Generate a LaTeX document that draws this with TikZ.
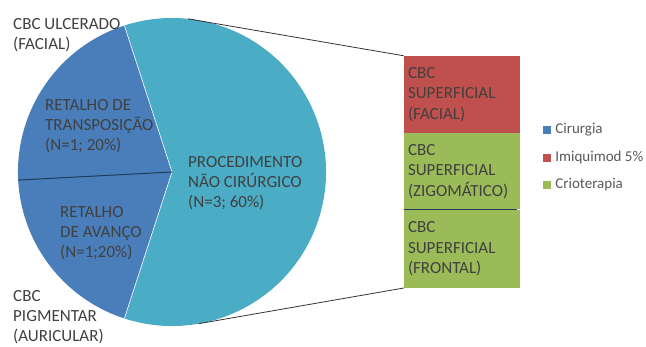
\documentclass[tikz,border=0pt]{standalone}
\usepackage{fontspec}
\setmainfont{Carlito}
\usetikzlibrary{positioning}

\definecolor{aqua}{HTML}{4BACC6}
\definecolor{cblue}{HTML}{4A7EBB}
\definecolor{cred}{HTML}{C0504D}
\definecolor{cgreen}{HTML}{9BBB59}
\definecolor{navy}{HTML}{1F3A5A}
\definecolor{txt}{HTML}{404040}

\begin{document}
\begin{tikzpicture}[
  x=1pt, y=1pt,
  every node/.style={align=left, text=txt},
  lbl/.style={anchor=west, inner sep=0pt, font=\fontsize{17}{20}\selectfont},
  bar/.style={minimum width=116pt, text width=108pt, inner xsep=4pt, inner ysep=0pt, font=\fontsize{17}{20.5}\selectfont},
  legbox/.style={minimum size=8pt, inner sep=0pt},
  legtext/.style={font=\fontsize{15}{18}\selectfont, text=black!65, inner sep=0pt},
  link/.style={draw=black!80, line width=0.8pt},
]

\useasboundingbox (0,0) rectangle (646,346);
\coordinate (c) at (172,174);

% pie
\fill[aqua] (c) -- ++(-108:154) arc[start angle=-108, end angle=108, radius=154] -- cycle;
\fill[cblue] (c) -- ++(108:154) arc[start angle=108, end angle=252, radius=154] -- cycle;
\draw[white, line width=0.6pt] (c) ++(108:154) -- (c) -- ++(-108:154);
\draw[navy, line width=1pt] (c) -- ++(183:154);
\path (c) ++(84:154) coordinate (ptop);
\path (c) ++(-80:154) coordinate (pbot);

\node[lbl] (ulcer) at (13,311) {CBC ULCERADO\\(FACIAL)};
\node[lbl] (transp) at (45,220) {RETALHO DE\\TRANSPOSIÇÃO\\(N=1; 20\%)};
\node[lbl] (avanco) at (60,113) {RETALHO\\DE AVANÇO\\(N=1;20\%)};
\node[lbl] (naocir) at (188,163) {PROCEDIMENTO\\NÃO CIRÚRGICO\\(N=3; 60\%)};
\node[lbl] (pigm) at (13,29) {CBC\\PIGMENTAR\\(AURICULAR)};

% bar of pie
\node[bar, fill=cred, minimum height=77pt] (facial) at (462,251.5) {CBC\\SUPERFICIAL\\(FACIAL)};
\node[bar, fill=cgreen, minimum height=76pt, below=0pt of facial] (zigo) {CBC\\SUPERFICIAL\\(ZIGOMÁTICO)};
\node[bar, fill=cgreen, minimum height=78pt, below=0pt of zigo] (frontal) {CBC\\SUPERFICIAL\\(FRONTAL)};
\draw[navy, line width=1pt] (zigo.south west) -- ([xshift=-3pt]zigo.south east);

\draw[link] (ptop) -- (facial.north west);
\draw[link] (pbot) -- (frontal.south west);

% legend
\node[legbox, fill=cblue] (kcir) at (547,216) {};
\node[legbox, fill=cred] (kimi) at (547,188) {};
\node[legbox, fill=cgreen] (kcrio) at (547,161) {};
\node[legtext, right=4pt of kcir] (tcir) {Cirurgia};
\node[legtext, right=4pt of kimi] (timi) {Imiquimod 5\%};
\node[legtext, right=4pt of kcrio] (tcrio) {Crioterapia};

\end{tikzpicture}
\end{document}
